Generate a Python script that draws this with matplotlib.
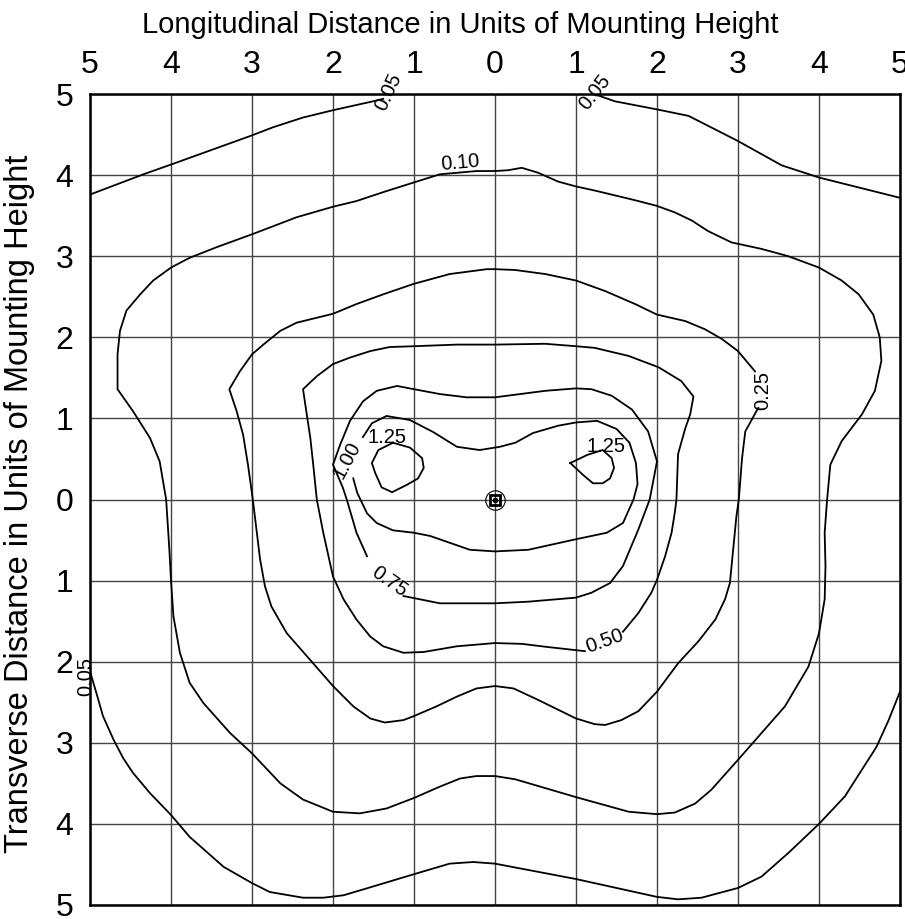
import numpy as np
import matplotlib
matplotlib.use("Agg")
import matplotlib.pyplot as plt

plt.rcParams['font.family'] = ['Liberation Sans', 'DejaVu Sans']

# grid positions (units of mounting height)
ticks = list(range(-5, 6))
tick_labels = [str(abs(t)) for t in ticks]

# isofootcandle lines as (x, y) points
iso_005_top_left = [(-5.0, 3.76), (-4.34, 4.01), (-4.0, 4.13), (-3.0, 4.49), (-2.74, 4.59),
                    (-2.37, 4.71), (-2.0, 4.80), (-1.46, 4.92), (-1.38, 4.94)]
iso_005_top_right = [(1.28, 4.98), (1.48, 4.91), (2.0, 4.81), (2.39, 4.73), (3.0, 4.42),
                     (3.54, 4.12), (4.0, 3.97), (5.0, 3.72)]
iso_005_bottom = [(-5.0, -2.12), (-4.92, -2.39), (-4.84, -2.67), (-4.71, -2.96), (-4.59, -3.19),
                  (-4.47, -3.37), (-4.26, -3.62), (-4.0, -3.89), (-3.77, -4.16), (-3.35, -4.53),
                  (-3.0, -4.73), (-2.78, -4.84), (-2.37, -4.91), (-2.12, -4.91), (-1.87, -4.88),
                  (-1.5, -4.77), (-1.0, -4.62), (-0.56, -4.49), (-0.27, -4.47), (0.0, -4.49),
                  (1.0, -4.68), (2.0, -4.90), (2.26, -4.93), (2.55, -4.91), (3.0, -4.79),
                  (3.29, -4.65), (3.62, -4.36), (4.0, -4.0), (4.32, -3.66), (4.71, -3.05),
                  (4.86, -2.72), (5.0, -2.37)]
iso_010 = [(0.0, 4.05), (-0.23, 4.05), (-0.68, 4.01), (-1.0, 3.91), (-1.38, 3.79), (-1.71, 3.68),
           (-2.0, 3.61), (-2.45, 3.48), (-3.0, 3.27), (-3.44, 3.11), (-3.77, 2.98), (-4.0, 2.86),
           (-4.22, 2.70), (-4.38, 2.53), (-4.55, 2.33), (-4.63, 2.08), (-4.66, 1.79), (-4.66, 1.36),
           (-4.47, 1.09), (-4.26, 0.76), (-4.14, 0.47), (-4.06, 0.0), (-4.02, -0.62), (-4.0, -1.0),
           (-3.97, -1.44), (-3.89, -1.89), (-3.77, -2.26), (-3.60, -2.51), (-3.27, -2.88),
           (-3.0, -3.13), (-2.65, -3.50), (-2.37, -3.70), (-2.0, -3.85), (-1.67, -3.87),
           (-1.34, -3.81), (-1.0, -3.68), (-0.68, -3.54), (-0.43, -3.44), (-0.23, -3.41),
           (0.0, -3.41), (0.25, -3.45), (1.0, -3.67), (1.65, -3.85), (2.0, -3.88), (2.22, -3.86),
           (2.47, -3.75), (2.67, -3.58), (3.0, -3.21), (3.29, -2.88), (3.58, -2.55), (3.87, -2.06),
           (4.0, -1.65), (4.07, -1.23), (4.08, -0.82), (4.07, -0.41), (4.10, 0.0), (4.14, 0.43),
           (4.28, 0.72), (4.53, 1.05), (4.69, 1.34), (4.77, 1.71), (4.75, 2.0), (4.67, 2.28),
           (4.49, 2.53), (4.28, 2.70), (4.0, 2.86), (3.62, 3.0), (3.29, 3.09), (2.92, 3.17),
           (2.63, 3.31), (2.43, 3.44), (2.22, 3.54), (2.0, 3.62), (1.73, 3.69), (1.23, 3.81),
           (1.0, 3.86), (0.78, 3.92), (0.53, 4.03), (0.33, 4.09), (0.16, 4.06), (0.0, 4.05)]
iso_025 = [(3.21, 1.58), (3.0, 1.83), (2.80, 1.98), (2.59, 2.10), (2.35, 2.20), (2.0, 2.28),
           (1.73, 2.41), (1.36, 2.57), (1.0, 2.70), (0.62, 2.78), (0.25, 2.83), (0.0, 2.84),
           (-0.1, 2.84), (-0.56, 2.78), (-1.0, 2.66), (-1.38, 2.53), (-1.71, 2.41), (-2.0, 2.29),
           (-2.45, 2.18), (-2.65, 2.08), (-2.86, 1.91), (-3.0, 1.79), (-3.15, 1.58), (-3.28, 1.36),
           (-3.19, 1.09), (-3.11, 0.80), (-3.05, 0.43), (-2.99, 0.0), (-2.94, -0.41), (-2.90, -0.74),
           (-2.84, -1.07), (-2.76, -1.32), (-2.57, -1.65), (-2.28, -1.98), (-2.0, -2.30),
           (-1.75, -2.55), (-1.54, -2.70), (-1.36, -2.75), (-1.13, -2.72), (-1.0, -2.67),
           (-0.72, -2.55), (-0.47, -2.43), (-0.23, -2.33), (0.0, -2.30), (0.23, -2.33),
           (0.53, -2.47), (1.0, -2.70), (1.23, -2.77), (1.36, -2.78), (1.56, -2.72), (1.77, -2.61),
           (2.0, -2.37), (2.26, -2.02), (2.51, -1.75), (2.72, -1.48), (2.84, -1.23), (2.90, -1.03),
           (2.94, -0.62), (2.98, -0.21), (3.01, 0.0), (3.05, 0.51), (3.09, 0.84), (3.25, 1.13)]
iso_050 = [(1.58, -1.63), (1.77, -1.40), (1.93, -1.15), (2.0, -0.99), (2.10, -0.70), (2.18, -0.41),
           (2.22, -0.16), (2.24, 0.0), (2.26, 0.56), (2.35, 0.88), (2.41, 1.05), (2.45, 1.27),
           (2.30, 1.46), (2.02, 1.63), (1.65, 1.77), (1.23, 1.87), (1.0, 1.89), (0.62, 1.92),
           (0.0, 1.91), (-0.47, 1.91), (-1.0, 1.89), (-1.30, 1.88), (-1.54, 1.83), (-1.79, 1.75),
           (-2.0, 1.67), (-2.20, 1.52), (-2.37, 1.36), (-2.33, 1.09), (-2.28, 0.76), (-2.24, 0.39),
           (-2.20, 0.0), (-2.12, -0.41), (-2.0, -0.95), (-1.87, -1.23), (-1.71, -1.48),
           (-1.54, -1.69), (-1.38, -1.81), (-1.13, -1.89), (-0.88, -1.88), (-0.47, -1.81),
           (0.0, -1.77), (0.33, -1.78), (0.66, -1.82), (1.11, -1.87)]
iso_075 = [(-1.13, -1.19), (-0.68, -1.28), (0.0, -1.28), (0.41, -1.26), (1.0, -1.21), (1.19, -1.15),
           (1.42, -1.03), (1.58, -0.82), (1.77, -0.37), (1.91, 0.0), (2.0, 0.47), (1.89, 0.84),
           (1.69, 1.11), (1.44, 1.28), (1.19, 1.36), (1.0, 1.37), (0.62, 1.34), (0.0, 1.26),
           (-0.35, 1.26), (-0.68, 1.30), (-1.0, 1.36), (-1.21, 1.40), (-1.46, 1.34), (-1.63, 1.21),
           (-1.79, 0.97), (-1.91, 0.68), (-2.0, 0.43), (-1.88, 0.15), (-1.83, 0.0), (-1.71, -0.41),
           (-1.58, -0.70)]
iso_100 = [(-1.75, 0.26), (-1.70, 0.08), (-1.58, -0.17), (-1.46, -0.29), (-1.26, -0.38),
           (-1.0, -0.41), (-0.80, -0.45), (-0.31, -0.62), (0.0, -0.64), (0.41, -0.62), (1.0, -0.49),
           (1.38, -0.41), (1.58, -0.29), (1.71, 0.0), (1.76, 0.19), (1.74, 0.45), (1.66, 0.70),
           (1.50, 0.87), (1.26, 0.97), (1.0, 0.95), (0.78, 0.91), (0.47, 0.82), (0.25, 0.70),
           (0.06, 0.65), (-0.19, 0.61), (-0.47, 0.65), (-0.76, 0.83), (-1.05, 0.98), (-1.34, 1.03),
           (-1.52, 0.94), (-1.63, 0.77)]
iso_125_left = [(-1.26, 0.70), (-1.05, 0.64), (-0.90, 0.51), (-0.88, 0.39), (-0.95, 0.26),
                (-1.09, 0.18), (-1.27, 0.09), (-1.40, 0.15), (-1.48, 0.33), (-1.52, 0.45),
                (-1.44, 0.61), (-1.26, 0.70)]
iso_125_right = [(0.93, 0.45), (1.14, 0.55), (1.33, 0.61), (1.44, 0.51), (1.47, 0.39),
                 (1.42, 0.26), (1.33, 0.20), (1.21, 0.20), (1.09, 0.30), (0.93, 0.45)]

# contour labels: text, x, y, rotation
label_text = ['0.05', '0.05', '0.05', '0.10', '0.25', '0.50', '0.75', '1.00', '1.25', '1.25']
label_x = [-1.32, 1.23, -5.05, -0.43, 3.30, 1.35, -1.30, -1.83, -1.33, 1.37]
label_y = [5.03, 5.02, -2.18, 4.15, 1.35, -1.75, -1.01, 0.48, 0.77, 0.65]
label_rot = [65, 52, 90, 5, 90, 20, -35, 62, 0, 0]

fig = plt.figure(figsize=(9.05, 9.19), dpi=100)
ax = fig.add_axes([90 / 905, 1 - 905 / 919, 810 / 905, 811 / 919])

lines = [iso_005_top_left, iso_005_top_right, iso_005_bottom, iso_010, iso_025,
         iso_050, iso_075, iso_100, iso_125_left, iso_125_right]
for pts in lines:
    xy = np.array(pts)
    ax.plot(xy[:, 0], xy[:, 1], color='black', lw=1.3)

for t, x, y, r in zip(label_text, label_x, label_y, label_rot):
    ax.text(x, y, t, rotation=r, ha='center', va='center', fontsize=14.5,
            rotation_mode='anchor')

# luminaire symbol at the origin
ax.plot([0], [0], marker='o', ms=14, mfc='none', mec='black', mew=0.8)
ax.plot([0], [0], marker='s', ms=7, mfc='none', mec='black', mew=2)
ax.plot([0], [0], marker='o', ms=3, color='black')

ax.set_xlim(-5, 5)
ax.set_ylim(-5, 5)
ax.set_xticks(ticks)
ax.set_yticks(ticks)
ax.set_xticklabels(tick_labels)
ax.set_yticklabels(tick_labels)
ax.xaxis.tick_top()
ax.tick_params(axis='both', length=0, labelsize=23)
ax.tick_params(axis='x', pad=10)
ax.tick_params(axis='y', pad=12)
ax.grid(True, color='#444444', lw=1.0)
ax.set_axisbelow(True)
for s in ax.spines.values():
    s.set_linewidth(1.8)

fig.text(460 / 905, 1 - 25 / 919, 'Longitudinal Distance in Units of Mounting Height',
         ha='center', va='center', fontsize=21)
fig.text(20 / 905, 1 - 504 / 919, 'Transverse Distance in Units of Mounting Height',
         ha='center', va='center', rotation=90, fontsize=23.5)

fig.savefig('out.png', dpi=100)
